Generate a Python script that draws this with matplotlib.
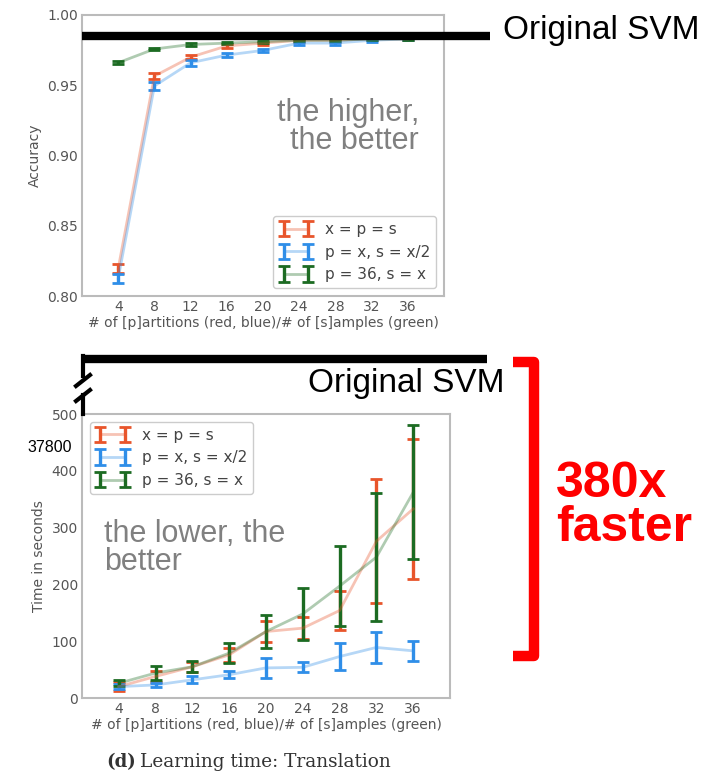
import matplotlib.pyplot as plt
from matplotlib.lines import Line2D
import numpy as np

# x = number of partitions / samples
x = [4, 8, 12, 16, 20, 24, 28, 32, 36]
labels = ["x = p = s", "p = x, s = x/2", "p = 36, s = x"]
colors = ["#E8552B", "#2F8EE8", "#1C6B22"]

# accuracy (top)
acc_red = [0.8195, 0.9565, 0.970, 0.978, 0.980, 0.982, 0.982, 0.983, 0.983]
acc_red_err = [0.003, 0.002, 0.0015, 0.0015, 0.001, 0.001, 0.001, 0.001, 0.001]
acc_blue = [0.8125, 0.9495, 0.966, 0.9715, 0.9748, 0.980, 0.980, 0.982, 0.983]
acc_blue_err = [0.003, 0.003, 0.002, 0.0015, 0.001, 0.001, 0.001, 0.001, 0.001]
acc_green = [0.966, 0.9758, 0.979, 0.980, 0.981, 0.982, 0.982, 0.983, 0.983]
acc_green_err = [0.001, 0.001, 0.0008, 0.0008, 0.0008, 0.0008, 0.0008, 0.0008, 0.0008]
svm_acc = 0.985

# learning time in seconds (bottom)
t_red = [20, 38, 55, 76, 117, 123, 154, 276, 333]
t_red_err = [8, 10, 9, 12, 18, 20, 34, 109, 123]
t_blue = [20, 23, 32, 41, 53, 54, 73, 89, 83]
t_blue_err = [5, 4, 6, 6, 18, 9, 23, 28, 18]
t_green = [26, 44, 55, 79, 117, 148, 197, 248, 362]
t_green_err = [5, 12, 10, 18, 29, 46, 71, 113, 118]
svm_time = "37800"

W, H = 726, 773


def fx(px):
    return px / W


def fy(py):
    return 1 - py / H


fig = plt.figure(figsize=(W / 100, H / 100), dpi=100)
ax1 = fig.add_axes([fx(82), fy(296), (444 - 82) / W, (296 - 15) / H])
ax2 = fig.add_axes([fx(82), fy(698), (450 - 82) / W, (698 - 414) / H])

xlabel = "# of [p]artitions (red, blue)/# of [s]amples (green)"


def draw(ax, series, loc):
    for (y, e), c, lab in zip(series, colors, labels):
        eb = ax.errorbar(x, y, yerr=e, color=c, lw=2, elinewidth=2.4,
                         capsize=4, capthick=2, label=lab)
        eb[0].set_alpha(0.35)
    ax.set_xlim(0, 40)
    ax.set_xticks(x)
    ax.tick_params(length=0, labelsize=10, labelcolor="#555555", pad=3)
    for s in ax.spines.values():
        s.set_color("#bbbbbb")
        s.set_linewidth(1.5)
    ax.set_xlabel(xlabel, fontsize=10, color="#555555", labelpad=1)
    leg = ax.legend(loc=loc, fontsize=11, handlelength=2.2, numpoints=2,
                    framealpha=1, edgecolor="#cccccc")
    for t in leg.get_texts():
        t.set_color("#444444")


draw(ax1, [(acc_red, acc_red_err), (acc_blue, acc_blue_err),
           (acc_green, acc_green_err)], "lower right")
ax1.set_ylim(0.80, 1.00)
ax1.set_yticks([0.80, 0.85, 0.90, 0.95, 1.00])
ax1.set_yticklabels(["%.2f" % v for v in [0.80, 0.85, 0.90, 0.95, 1.00]])
ax1.set_ylabel("Accuracy", fontsize=10, color="#555555", labelpad=4)

draw(ax2, [(t_red, t_red_err), (t_blue, t_blue_err),
           (t_green, t_green_err)], "upper left")
ax2.set_ylim(0, 500)
ax2.set_yticks([0, 100, 200, 300, 400, 500])
ax2.set_ylabel("Time in seconds", fontsize=10, color="#555555", labelpad=4)

# Original SVM reference lines
ax1.plot([0, 45.1], [svm_acc, svm_acc], color="black", lw=6, clip_on=False,
         solid_capstyle="butt", zorder=10)
fig.text(fx(503), fy(30), "Original SVM", fontsize=24, family="Liberation Sans",
         va="center", ha="left")

fig.add_artist(Line2D([fx(81), fx(487)], [fy(359), fy(359)], color="black",
                      lw=6, solid_capstyle="butt"))
fig.add_artist(Line2D([fx(83), fx(83)], [fy(356), fy(376)], color="black", lw=3))
fig.add_artist(Line2D([fx(76), fx(90)], [fy(386), fy(375)], color="black", lw=3))
fig.add_artist(Line2D([fx(76), fx(90)], [fy(401), fy(390)], color="black", lw=3))
fig.add_artist(Line2D([fx(83), fx(83)], [fy(395), fy(414)], color="black", lw=3))
fig.text(fx(505), fy(384), "Original SVM", fontsize=24, family="Liberation Sans",
         va="center", ha="right")
fig.text(fx(27), fy(447), svm_time, fontsize=11.5, family="Liberation Sans",
         va="center", ha="left")

# annotations
fig.text(fx(419), fy(127), "the higher,\nthe better", fontsize=22,
         family="Liberation Sans", color="#808080", ha="right", va="center",
         multialignment="right", linespacing=0.95)
fig.text(fx(104), fy(548), "the lower, the\nbetter", fontsize=22,
         family="Liberation Sans", color="#808080", ha="left", va="center",
         linespacing=0.95)

# red bracket
fig.add_artist(Line2D([fx(513), fx(534), fx(534), fx(513)],
                      [fy(362), fy(362), fy(656), fy(656)], color="#FF0000",
                      lw=7.5, solid_joinstyle="round", solid_capstyle="butt"))
fig.text(fx(556), fy(506), "380x\nfaster", fontsize=36, fontweight="bold",
         family="Liberation Sans", color="#FF0000", ha="left", va="center",
         linespacing=0.95)

# caption
fig.text(fx(106), fy(762), "(d)", fontsize=13, fontweight="bold",
         family="DejaVu Serif", color="#333333", va="center")
fig.text(fx(140), fy(762), "Learning time: Translation", fontsize=13.3,
         family="DejaVu Serif", color="#333333", va="center")

fig.savefig("out.png", dpi=100)
